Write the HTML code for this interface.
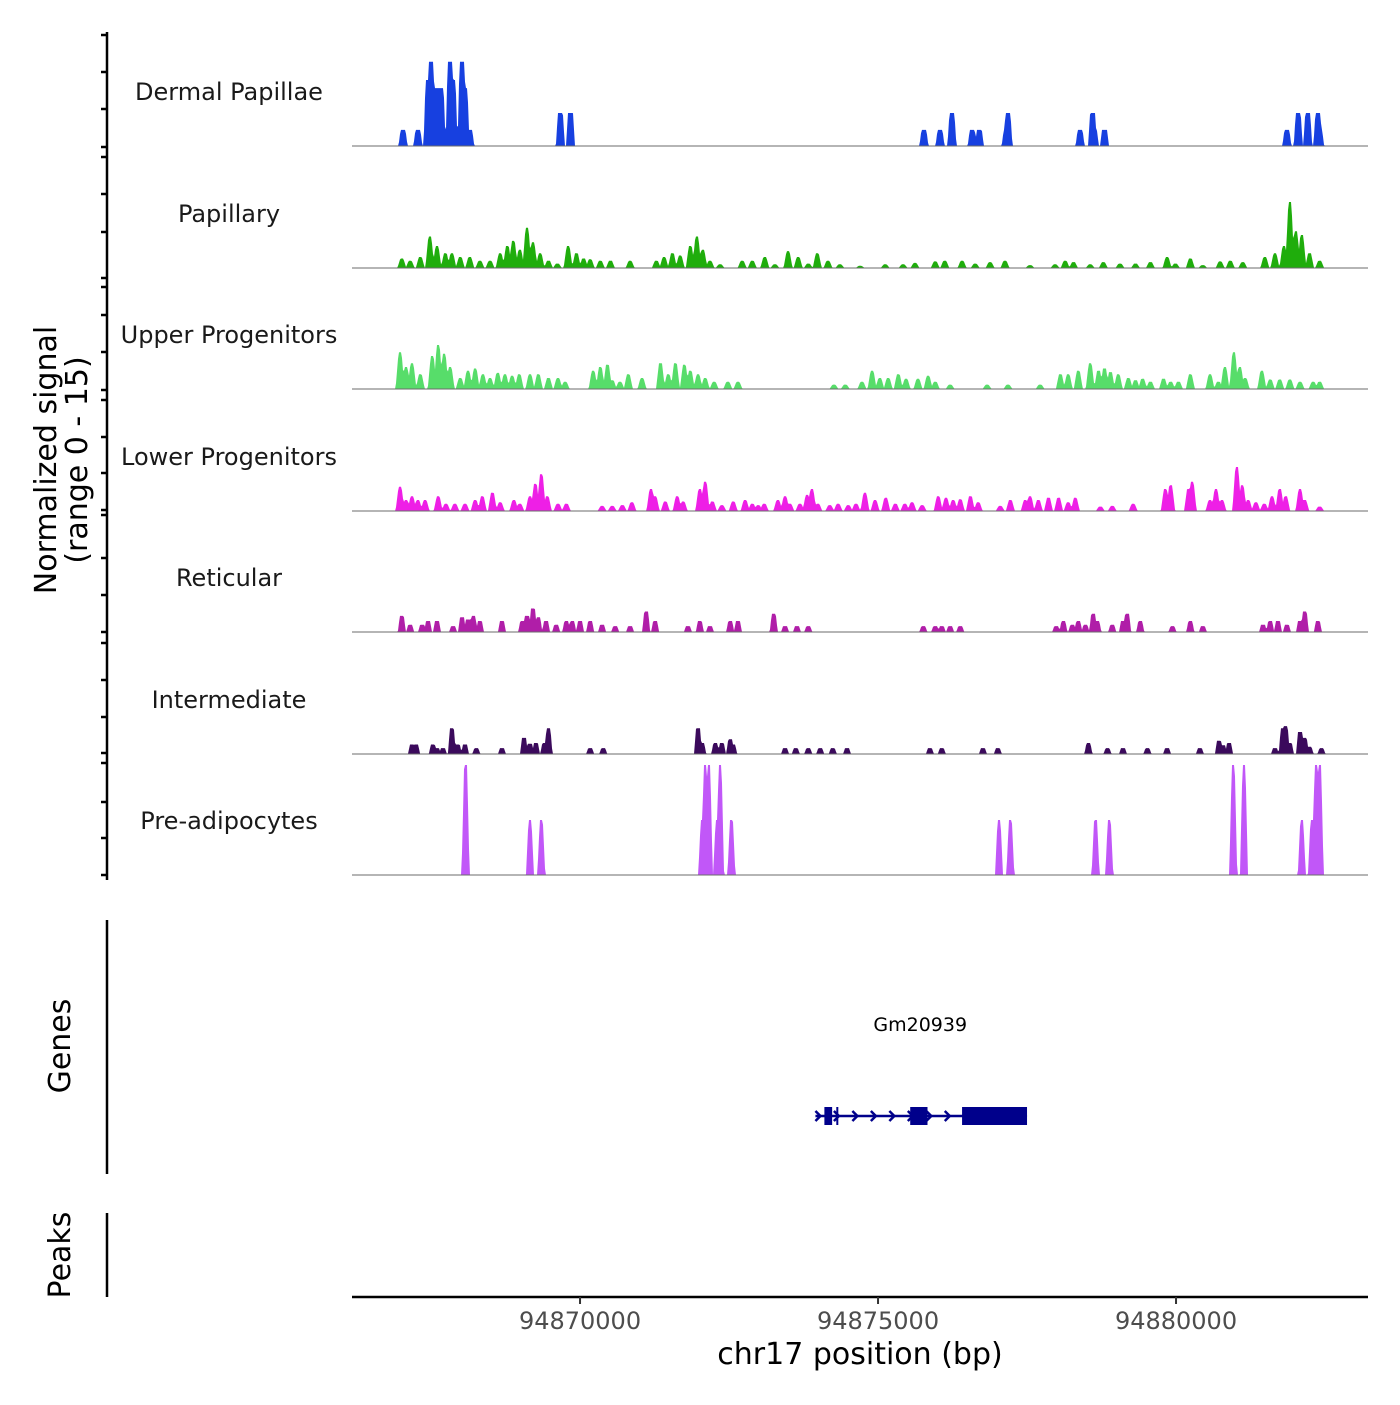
<!DOCTYPE html>
<html><head><meta charset="utf-8">
<style>
html,body{margin:0;padding:0;background:#fff;}
svg text{font-family:"DejaVu Sans","Liberation Sans",sans-serif;}
</style></head>
<body>
<svg id="chart" width="1400" height="1400" viewBox="0 0 1400 1400" xmlns="http://www.w3.org/2000/svg">
<rect width="1400" height="1400" fill="#fff"/>
<g id="tracks"></g>
<g id="yaxis"></g>
<text transform="translate(56,460) rotate(-90)" text-anchor="middle" font-size="30" fill="#000">Normalized signal</text>
<text transform="translate(87,460) rotate(-90)" text-anchor="middle" font-size="30" fill="#000">(range 0 - 15)</text>
<line x1="107" y1="920" x2="107" y2="1174" stroke="#000" stroke-width="2.5"/>
<text transform="translate(70,1046) rotate(-90)" text-anchor="middle" font-size="30" fill="#000">Genes</text>
<line x1="107" y1="1213" x2="107" y2="1297" stroke="#000" stroke-width="2.5"/>
<text transform="translate(70,1255) rotate(-90)" text-anchor="middle" font-size="30" fill="#000">Peaks</text>
<g id="gene"></g>
<g id="xaxis"></g>
<text x="860" y="1364" text-anchor="middle" font-size="30" fill="#000">chr17 position (bp)</text>
</svg>
<script>
// genomic positions (kb) and normalized signal values per track
const dermalPos=[94867.03,94867.28,94867.45,94867.50,94867.60,94867.67,94867.82,94867.87,94868.02,94868.07,94868.15,94869.67,94869.84,94875.77,94876.04,94876.24,94876.58,94876.70,94877.15,94877.18,94878.39,94878.60,94878.63,94878.80,94881.86,94882.05,94882.21,94882.38,94882.41];
const dermalVal=[2.2,2.2,9,11.5,7.9,7.9,11.5,9,11.5,7.9,2.2,4.5,4.5,2.2,2.2,4.5,2.2,2.2,2.2,4.5,2.2,4.5,2.2,2.2,2.2,4.5,4.5,4.5,2.2];
const papPos=[94867.01,94867.15,94867.32,94867.48,94867.60,94867.74,94867.85,94867.99,94868.15,94868.32,94868.49,94868.66,94868.78,94868.88,94868.99,94869.11,94869.21,94869.33,94869.47,94869.62,94869.80,94869.94,94870.06,94870.17,94870.34,94870.51,94870.84,94871.28,94871.41,94871.55,94871.68,94871.85,94871.96,94872.06,94872.18,94872.35,94872.72,94872.89,94873.10,94873.27,94873.49,94873.66,94873.83,94873.98,94874.16,94874.36,94874.70,94875.12,94875.42,94875.62,94875.96,94876.12,94876.41,94876.63,94876.88,94877.13,94877.55,94877.97,94878.14,94878.28,94878.56,94878.78,94879.06,94879.32,94879.57,94879.85,94879.99,94880.24,94880.45,94880.74,94880.91,94881.12,94881.49,94881.66,94881.81,94881.91,94882.01,94882.11,94882.24,94882.41];
const papVal=[1.3,1,1.5,4.3,3,2,2,1.5,1.5,1,1,2,3,3.7,2.5,5.5,3.5,2,1,0.6,3,2,1.3,1.2,1,1,1,1,1.5,2,1.7,3,4.3,2.5,1,0.5,1,1,1.5,0.5,2.3,1.5,0.6,2,1,0.5,0.3,0.5,0.5,0.7,0.9,1,1,0.6,0.8,1,0.4,0.5,1,0.8,0.5,0.8,0.6,0.6,0.8,1.5,0.6,1.3,0.4,0.9,1,0.8,1.5,2,3,9,5,4.5,2,1];
const upPos=[94866.98,94867.08,94867.18,94867.32,94867.52,94867.62,94867.72,94867.82,94867.99,94868.12,94868.24,94868.37,94868.49,94868.62,94868.74,94868.86,94868.98,94869.16,94869.30,94869.47,94869.63,94869.75,94870.22,94870.34,94870.46,94870.54,94870.67,94870.81,94871.04,94871.35,94871.48,94871.60,94871.75,94871.85,94871.98,94872.10,94872.25,94872.48,94872.65,94874.26,94874.45,94874.73,94874.90,94875.03,94875.17,94875.34,94875.47,94875.67,94875.84,94875.96,94876.21,94876.83,94877.18,94877.72,94878.06,94878.19,94878.36,94878.56,94878.70,94878.80,94878.90,94879.03,94879.20,94879.32,94879.44,94879.57,94879.79,94879.91,94880.04,94880.24,94880.57,94880.71,94880.82,94880.97,94881.07,94881.16,94881.44,94881.58,94881.74,94881.91,94882.08,94882.30,94882.41];
const upVal=[5,3,3.5,2,4.5,6,4.8,3,1.5,2.5,2.8,2,1.5,2.2,2,1.8,2,2,2,1.5,1.5,1,2.5,3,3.3,1.2,1,2,1.5,3.5,2,3.5,3.3,2.5,2,1.5,1,1,1,0.6,0.6,1,2.5,1.5,1.5,2,1.4,1.4,1.8,1,0.6,0.6,0.6,0.6,2,2,2.5,3.5,2.5,2.8,2.3,2,1.5,1.2,1.4,1,1.4,1,1,2,2,1,3,5,3,1.5,2.5,1.3,1.3,1.3,1,1,1];
const lowPos=[94866.98,94867.08,94867.18,94867.28,94867.40,94867.62,94867.75,94867.90,94868.07,94868.24,94868.36,94868.53,94868.66,94868.89,94868.99,94869.16,94869.25,94869.35,94869.45,94869.63,94869.77,94870.37,94870.54,94870.71,94870.87,94871.19,94871.26,94871.43,94871.63,94871.73,94872.01,94872.10,94872.22,94872.38,94872.57,94872.77,94872.89,94872.99,94873.09,94873.32,94873.44,94873.52,94873.69,94873.81,94873.89,94873.99,94874.19,94874.33,94874.50,94874.63,94874.78,94874.95,94875.13,94875.29,94875.45,94875.57,94875.74,94876.01,94876.14,94876.26,94876.38,94876.55,94876.68,94877.05,94877.22,94877.47,94877.55,94877.69,94877.86,94878.03,94878.19,94878.31,94878.73,94878.93,94879.28,94879.82,94879.91,94880.21,94880.27,94880.57,94880.67,94880.77,94881.02,94881.11,94881.21,94881.34,94881.48,94881.61,94881.74,94881.84,94882.08,94882.16,94882.41];
const lowVal=[3.3,1.5,2,1.5,1.5,2,1,1,1,1.5,2,2.5,1.2,1.5,1,2,3.7,5,2,1,1,0.7,0.7,0.8,1.2,3,2,1.3,2,1.3,3,4,1.3,0.8,1.3,1.5,1,0.8,1,1.5,2,1,1,2.2,3,1,0.8,1,0.8,1,2.5,1.5,1.8,1,1,1.2,0.8,2,1.8,1.5,1.6,2,1.2,0.7,1.5,1.5,2,1.5,1.8,1.8,1.2,1.8,0.6,0.7,1,3,3.5,3,4,1.5,3,1.5,6,3.5,1.5,1.2,1,2,3,2,3,1.5,0.6];
const retPos=[94867.01,94867.15,94867.35,94867.45,94867.60,94867.87,94868.02,94868.12,94868.21,94868.32,94868.69,94869.03,94869.11,94869.21,94869.30,94869.43,94869.60,94869.77,94869.87,94870.00,94870.17,94870.37,94870.59,94870.84,94871.11,94871.26,94871.81,94872.01,94872.18,94872.52,94872.65,94873.25,94873.44,94873.64,94873.83,94875.76,94875.96,94876.07,94876.21,94876.38,94877.99,94878.11,94878.26,94878.36,94878.48,94878.61,94878.68,94878.93,94879.11,94879.18,94879.40,94879.94,94880.24,94880.45,94881.46,94881.58,94881.71,94881.86,94882.08,94882.16,94882.38];
const retVal=[2.2,1,1,1.5,1.5,0.8,2,1.7,2.2,1.5,1.5,1.5,2.2,3.2,2,1.5,1,1.5,1.5,1.5,1.5,1,0.8,0.8,2.8,1.5,0.8,1.5,0.8,1.5,1.5,2.5,0.8,0.8,0.8,0.8,0.8,0.8,0.8,0.8,0.8,1.5,1,1.5,1,2.5,1.5,1,1.5,2.5,1.5,0.8,1.5,0.8,1,1.5,1.5,1,1.5,2.8,1.5];
const intPos=[94867.18,94867.25,94867.53,94867.60,94867.70,94867.85,94867.95,94868.07,94868.26,94868.69,94869.06,94869.16,94869.26,94869.40,94869.47,94870.17,94870.39,94871.98,94872.05,94872.27,94872.38,94872.52,94872.57,94873.44,94873.62,94873.83,94874.03,94874.24,94874.48,94875.87,94876.07,94876.76,94877.01,94878.53,94878.85,94879.11,94879.52,94879.85,94880.40,94880.72,94880.79,94880.89,94881.66,94881.79,94881.84,94881.91,94882.08,94882.16,94882.24,94882.44];
const intVal=[1.3,1.3,1.3,0.8,0.8,3.5,1.3,1.3,0.8,0.8,2.2,1.4,1.5,1.5,3.5,0.8,0.8,3.5,1.5,1.5,1.5,2,1.3,0.8,0.8,0.8,0.8,0.8,0.8,0.8,0.8,0.8,0.8,1.5,0.8,0.8,0.8,0.8,0.8,1.8,1.2,1.5,0.8,3.5,3.8,1.5,3,2.2,1,0.8];
const prePos=[94868.07,94868.08,94869.16,94869.35,94872.05,94872.10,94872.16,94872.30,94872.35,94872.54,94877.03,94877.22,94878.65,94878.88,94880.96,94881.14,94882.11,94882.28,94882.35,94882.41];
const preVal=[7.5,15,7.5,7.5,7.5,15,15,7.5,15,7.5,7.5,7.5,7.5,7.5,15,15,7.5,7.5,15,15];
const trackNames=["Dermal Papillae","Papillary","Upper Progenitors","Lower Progenitors","Reticular","Intermediate","Pre-adipocytes"];
const trackColors=["#1740e0","#1fad0c","#57dd6a","#ee1fe6","#b01ea8","#3b0a5c","#c157f8"];
const xTicks=[94870000,94875000,94880000];
const geneExonStarts=[94874.10,94874.30,94875.54,94876.41];
const geneExonEnds=[94874.23,94874.33,94875.83,94877.50];
const geneStart=94873.95, geneEnd=94877.50;

const NS='http://www.w3.org/2000/svg';
const X0=352,X1=1368,BP0=94866.174,BP1=94883.221;
const xs=kb=>X0+(kb-BP0)/(BP1-BP0)*(X1-X0);
const baselines=[146,268,389,511,632,754,875];
const labelY=[92,214,335,457,578,700,821];
const tracks=[[dermalPos,dermalVal],[papPos,papVal],[upPos,upVal],[lowPos,lowVal],[retPos,retVal],[intPos,intVal],[prePos,preVal]];
const shapes=[[2.5,4.5],[1.5,4.5],[1.5,4.5],[1.5,4.5],[2,4],[2,4],[1.5,4]];
function mk(tag,attrs,parent){const e=document.createElementNS(NS,tag);for(const k in attrs)e.setAttribute(k,attrs[k]);parent.appendChild(e);return e;}
const tg=document.getElementById('tracks');
tracks.forEach((t,i)=>{
  const g=mk('g',{},tg);
  
  
  const base=baselines[i];
  const [top,bot]=shapes[i];
  const prof=new Float32Array(X1-X0+1);
  t[0].forEach((p,j)=>{
    const cx=xs(p),h=t[1][j]*110/15;
    for(let x=Math.floor(cx-bot);x<=Math.ceil(cx+bot);x++){
      const d=Math.abs(x-cx);let v=d<=top?h:(d>=bot?0:h*(bot-d)/(bot-top));
      const k=x-X0;if(k>=0&&k<prof.length&&v>prof[k])prof[k]=v;
    }
  });
  let d='M'+X0+','+base;
  for(let k=0;k<prof.length;k++)d+=' L'+(X0+k)+','+(base-prof[k]).toFixed(1);
  d+=' L'+X1+','+base+' Z';
  const path=mk('path',{d:d,fill:trackColors[i],stroke:'none'},g);
  
  
  const ln=mk('line',{x1:X0,x2:X1,y1:base,y2:base,stroke:'#6b6b6b','stroke-width':1},g);
  
  
  const lb=mk('text',{x:229,y:labelY[i]+8,'text-anchor':'middle','font-size':24,fill:'#1a1a1a'},g);
  lb.textContent=trackNames[i];
  
  
});
// y axis
const ya=document.getElementById('yaxis');
mk('line',{x1:107,y1:32,x2:107,y2:880,stroke:'#000','stroke-width':2.5},ya);
[35,72,109,147,157,194,232,278,287,315,352,390,400,437,473,510,515,558,595,632,643,680,717,753,763,802,838,875].forEach(y=>{
  const tk=mk('line',{x1:101,x2:107,y1:y,y2:y,stroke:'#000','stroke-width':2.5},ya);
  
  
});
// x axis
const xa=document.getElementById('xaxis');
mk('line',{x1:X0,y1:1297,x2:X1,y2:1297,stroke:'#000','stroke-width':2.5},xa);
xTicks.forEach(v=>{
  const x=xs(v/1000);
  const tk=mk('line',{x1:x,x2:x,y1:1297,y2:1304,stroke:'#333','stroke-width':2},xa);
  
  
  const tl=mk('text',{x:x,y:1329,'text-anchor':'middle','font-size':24,fill:'#4d4d4d'},xa);
  tl.textContent=v;
  
  
});
// gene
const gg=document.getElementById('gene');
const gl=mk('text',{x:(xs(geneStart)+xs(geneEnd))/2-1,y:1031,'text-anchor':'middle','font-size':19,fill:'#000'},gg);
gl.textContent='Gm20939';


mk('line',{x1:xs(geneStart),x2:xs(geneEnd),y1:1116,y2:1116,stroke:'#00008b','stroke-width':2.5},gg);
for(let kb=geneStart+0.05;kb<geneEnd;kb+=0.31){
  const x=xs(kb);
  mk('path',{d:`M${x-3},${1111} L${x+2},${1116} L${x-3},${1121}`,fill:'none',stroke:'#00008b','stroke-width':2.5},gg);
}
geneExonStarts.forEach((s,i)=>{
  const r=mk('rect',{x:xs(s),y:1107,width:Math.max(2,xs(geneExonEnds[i])-xs(s)),height:18,fill:'#00008b'},gg);
  
  
});
</script>
</body></html>
